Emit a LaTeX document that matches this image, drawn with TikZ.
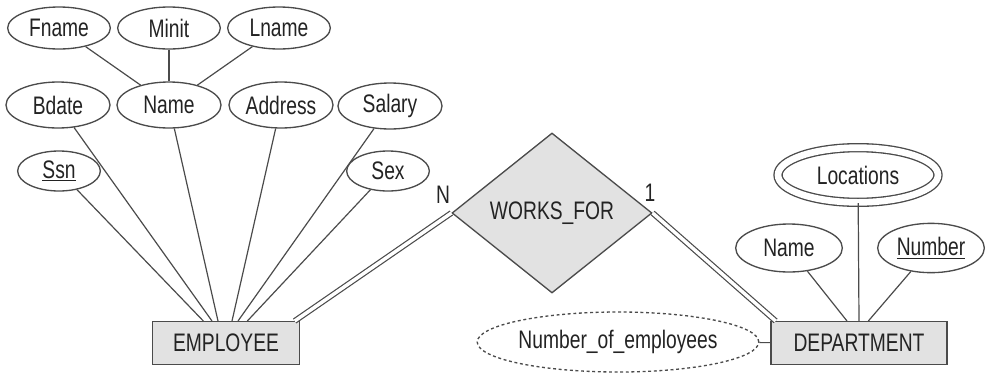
\documentclass[tikz,border=0pt]{standalone}
\usepackage{fontspec}
\setmainfont[FakeStretch=0.76]{Liberation Sans}
\usetikzlibrary{shapes.geometric}
\definecolor{linegray}{RGB}{75,75,75}
\definecolor{boxgray}{RGB}{226,226,226}
\definecolor{txtgray}{RGB}{35,35,35}

\begin{document}
\begin{tikzpicture}[
  x=0.75pt, y=-0.75pt,
  font=\fontsize{19}{22}\selectfont, text=txtgray,
  attr/.style={draw=linegray, ellipse, line width=1pt, inner sep=0pt, fill=white},
  toprow/.style={attr, minimum width=77pt, minimum height=31.5pt},
  midrow/.style={attr, minimum width=78pt, minimum height=34.5pt},
  lowrow/.style={attr, minimum width=62pt, minimum height=30pt},
  entity/.style={draw=linegray, fill=boxgray, rectangle, line width=1pt, minimum height=32pt},
  rel/.style={draw=linegray, fill=boxgray, diamond, line width=1pt, inner sep=0pt,
              minimum width=150pt, minimum height=120pt},
  ln/.style={draw=linegray, line width=0.9pt},
  total/.style={ln, double=white, double distance=2.6pt}]

\useasboundingbox (0,0) rectangle (985,379);

% --- EMPLOYEE and its attributes
\node[entity, minimum width=110pt] (employee) at (226,343) {EMPLOYEE};
\node[toprow] (fname) at (59,28) {Fname};
\node[toprow] (minit) at (169,28) {Minit};
\node[toprow] (lname) at (279,28) {Lname};
\node[midrow] (bdate) at (58,105) {Bdate};
\node[midrow] (ename) at (169,105) {Name};
\node[midrow] (address) at (281,105) {Address};
\node[midrow] (salary) at (390,106) {Salary};
\node[lowrow] (ssn) at (59,171) {\underline{Ssn}};
\node[lowrow] (sex) at (388,171) {Sex};

% --- relationship
\node[rel] (works) at (552,213) {WORKS\_FOR};
\node (cardn) at (443,195) {N};
\node (cardone) at (650,193) {1};

% --- DEPARTMENT and its attributes
\node[entity, minimum width=132pt] (department) at (859,343) {DEPARTMENT};
\node[attr, double=white, double distance=5pt, minimum width=120pt, minimum height=41pt]
      (locations) at (858,175) {Locations};
\node[attr, minimum width=80pt, minimum height=36pt] (dname) at (789,248) {Name};
\node[attr, minimum width=80pt, minimum height=37pt] (dnumber) at (931,248) {\underline{Number}};
\node[attr, dash pattern=on 2.2pt off 2pt, minimum width=178pt, minimum height=45pt]
      (noe) at (618,342) {Number\_of\_employees};

% composite attribute
\draw[ln] (fname) -- (ename);
\draw[ln] (minit) -- (ename);
\draw[ln] (lname) -- (ename);

% attributes -> EMPLOYEE, fanned along its top edge
\draw[ln] (ssn) -- ([xshift=-17pt]employee.north);
\draw[ln] (bdate) -- ([xshift=-10.5pt]employee.north);
\draw[ln] (ename) -- ([xshift=-6pt]employee.north);
\draw[ln] (address) -- ([xshift=4.5pt]employee.north);
\draw[ln] (salary) -- ([xshift=9pt]employee.north);
\draw[ln] (sex) -- ([xshift=16pt]employee.north);

% total participation on both sides
\draw[total] ([xshift=-4pt]employee.north east) -- (works.west);
\draw[total] (works.east) -- ([xshift=4pt]department.north west);

% attributes -> DEPARTMENT
\draw[ln] (dname) -- ([xshift=-9pt]department.north);
\draw[ln] (locations) -- (department.north);
\draw[ln] (dnumber) -- ([xshift=7pt]department.north);
\draw[ln] (noe) -- (department);
\end{tikzpicture}
\end{document}
